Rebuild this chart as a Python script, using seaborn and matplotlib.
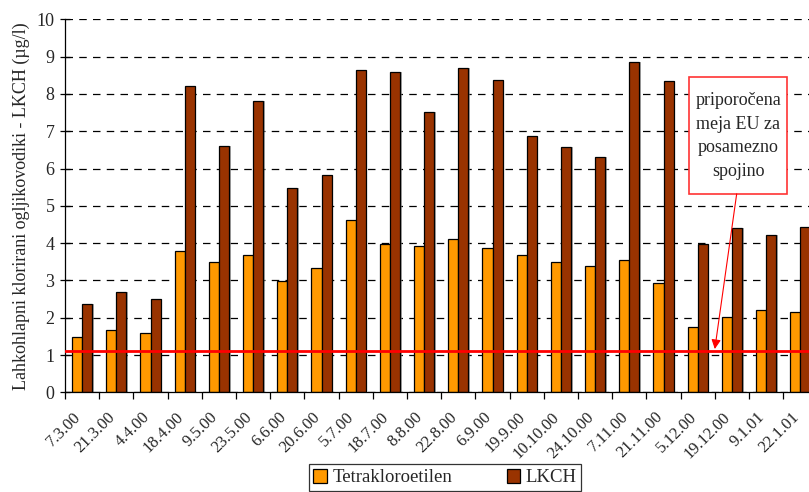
import matplotlib
matplotlib.use("Agg")
import matplotlib.pyplot as plt
import matplotlib.patheffects as pe
from matplotlib.patches import Rectangle, Patch
import numpy as np
import pandas as pd
import seaborn as sns

# Sampling dates
dates = ["7.3.00", "21.3.00", "4.4.00", "18.4.00", "9.5.00", "23.5.00", "6.6.00",
         "20.6.00", "5.7.00", "18.7.00", "8.8.00", "22.8.00", "6.9.00", "19.9.00",
         "10.10.00", "24.10.00", "7.11.00", "21.11.00", "5.12.00", "19.12.00",
         "9.1.01", "22.1.01"]

# Concentrations in µg/l
tetrakloroetilen = [1.47, 1.68, 1.58, 3.78, 3.49, 3.69, 2.98, 3.32, 4.63, 3.97, 3.92,
                    4.10, 3.86, 3.67, 3.49, 3.39, 3.54, 2.92, 1.74, 2.01, 2.20, 2.14]
lkch = [2.36, 2.69, 2.50, 8.20, 6.60, 7.81, 5.49, 5.83, 8.64, 8.58, 7.52,
        8.70, 8.37, 6.86, 6.58, 6.30, 8.85, 8.35, 3.98, 4.40, 4.21, 4.44]

series_names = ["Tetrakloroetilen", "LKCH"]
series_colors = ["#FF9900", "#993300"]

# Recommended EU limit for a single compound
eu_limit = 1.1
note_text = "priporočena\nmeja EU za\nposamezno\nspojino"

ylabel = "Lahkohlapni klorirani ogljikovodiki - LKCH (µg/l)"

df = pd.DataFrame({
    "datum": dates * 2,
    "vrednost": tetrakloroetilen + lkch,
    "serija": [series_names[0]] * len(dates) + [series_names[1]] * len(dates),
})

sns.set_theme(style="white")
plt.rcParams["font.family"] = ["Liberation Serif", "DejaVu Serif"]

fig = plt.figure(figsize=(8.09, 4.92), dpi=100)
ax = fig.add_axes([65 / 809, 99.7 / 492, 752.4 / 809, 373 / 492])

sns.barplot(data=df, x="datum", y="vrednost", hue="serija", order=dates,
            hue_order=series_names, palette=series_colors, width=0.585,
            edgecolor="black", linewidth=0.9, saturation=1, legend=False, ax=ax,
            zorder=2)

for bar in ax.patches:
    bar.set_path_effects([pe.SimplePatchShadow(offset=(1.2, 0), shadow_rgbFace="0.45",
                                               alpha=0.6), pe.Normal()])

n = len(dates)
ax.set_xlim(-0.5, n - 0.5)
ax.set_ylim(0, 10)
ax.set_yticks(np.arange(0, 11, 1))
ax.yaxis.grid(True, color="black", linestyle=(0, (6, 5)), linewidth=0.9, zorder=0)
ax.set_axisbelow(True)

ax.axhline(eu_limit, color="#FF0000", linewidth=2, zorder=3)

# Category labels (invisible ticks, set a little left of each group centre so the
# rotated text ends under the group); tick marks on the group boundaries
ax.set_xticks(np.arange(n) - 0.27)
ax.set_xticklabels(dates, rotation=45, ha="right", va="top", rotation_mode="anchor",
                   fontsize=12)
ax.tick_params(axis="x", which="major", length=0, pad=12)
ax.set_xticks(np.arange(-0.5, n, 1), minor=True)
ax.tick_params(axis="x", which="minor", length=5, width=0.9, color="black",
               direction="out", bottom=True)
ax.tick_params(axis="y", which="major", length=7, width=0.9, color="black",
               direction="inout", left=True, labelsize=13, pad=4)

ax.set_xlabel("")
ax.set_ylabel(ylabel, fontsize=13, labelpad=5)

for side in ["top", "right"]:
    ax.spines[side].set_visible(False)
for side in ["left", "bottom"]:
    ax.spines[side].set_color("black")
    ax.spines[side].set_linewidth(0.9)

# Note box with arrow pointing to the limit line
ax.add_patch(Rectangle((17.75, 5.32), 2.86, 3.13, facecolor="white",
                       edgecolor="#FF3333", linewidth=1.2, zorder=4))
ax.text(19.18, 6.87, note_text, ha="center", va="center", fontsize=13,
        linespacing=1.5, zorder=5)
ax.annotate("", xy=(18.5, 1.16), xytext=(19.14, 5.32),
            arrowprops=dict(arrowstyle="-|>", color="#FF0000", lw=0.8,
                            mutation_scale=14, shrinkA=0, shrinkB=0), zorder=5)

handles = [Patch(facecolor=c, edgecolor="black", linewidth=0.9) for c in series_colors]
leg = fig.legend(handles, series_names, loc="lower center", ncol=2,
                 bbox_to_anchor=(445 / 809, 0.0), frameon=True, fancybox=False,
                 edgecolor="black", fontsize=13.5, handlelength=0.72, handleheight=0.72,
                 handletextpad=0.3, columnspacing=2.9, borderpad=0.25,
                 borderaxespad=0.05)
leg.get_frame().set_linewidth(0.9)

fig.savefig("out.png", dpi=100)
